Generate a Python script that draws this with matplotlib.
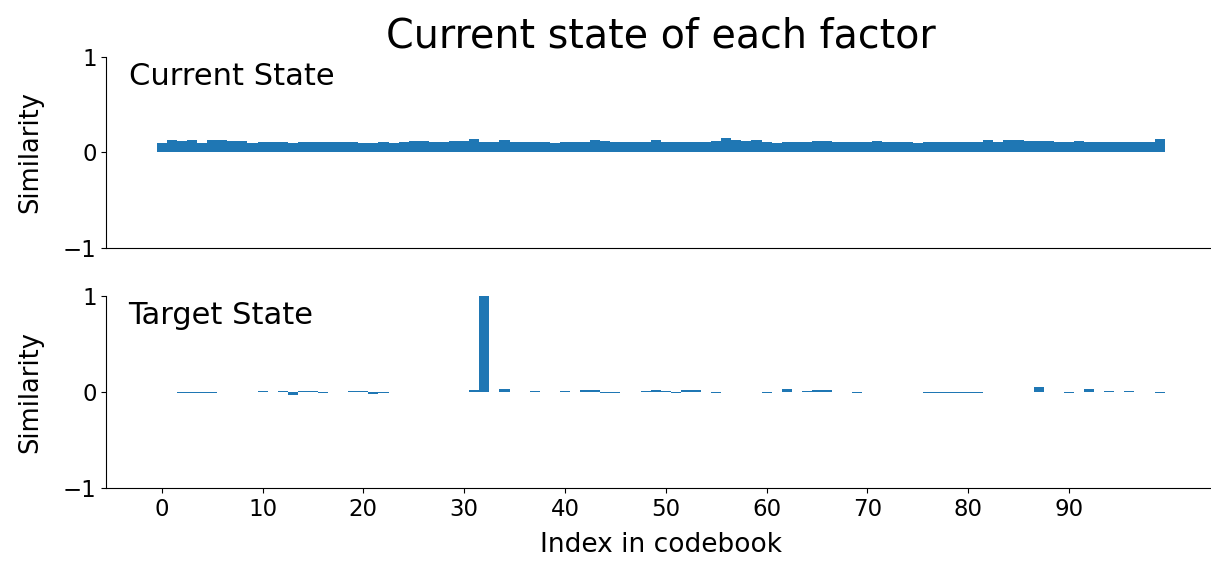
import numpy as np
import matplotlib
matplotlib.use("Agg")
import matplotlib.pyplot as plt

# === data ===
n_codes = 100
index = np.arange(n_codes)

current_state = [
    0.100, 0.130, 0.125, 0.135, 0.100, 0.135, 0.135, 0.125, 0.125, 0.100,
    0.115, 0.115, 0.105, 0.100, 0.115, 0.115, 0.115, 0.105, 0.115, 0.115,
    0.100, 0.100, 0.105, 0.100, 0.115, 0.120, 0.120, 0.105, 0.115, 0.120,
    0.120, 0.140, 0.115, 0.115, 0.135, 0.110, 0.105, 0.105, 0.105, 0.100,
    0.115, 0.115, 0.110, 0.130, 0.125, 0.115, 0.115, 0.105, 0.110, 0.130,
    0.110, 0.110, 0.115, 0.105, 0.115, 0.120, 0.150, 0.135, 0.120, 0.130,
    0.105, 0.100, 0.110, 0.115, 0.115, 0.120, 0.125, 0.115, 0.115, 0.110,
    0.110, 0.125, 0.110, 0.110, 0.105, 0.100, 0.105, 0.110, 0.115, 0.115,
    0.115, 0.115, 0.130, 0.115, 0.130, 0.130, 0.125, 0.120, 0.120, 0.115,
    0.110, 0.125, 0.115, 0.115, 0.110, 0.110, 0.110, 0.110, 0.110, 0.140,
]

# target state: mostly ~0, one-hot at index 32
target_nonzero = {
    2: -0.01, 3: -0.01, 4: -0.01, 5: -0.01,
    9: 0.005, 10: 0.01,
    12: 0.01, 13: -0.03, 14: 0.01, 15: 0.01, 16: -0.01,
    19: 0.01, 20: 0.01, 21: -0.025, 22: -0.01,
    27: 0.005, 28: 0.005,
    31: 0.02, 32: 1.0, 34: 0.03, 37: 0.01, 40: 0.01,
    42: 0.02, 43: 0.025, 44: -0.01, 45: -0.015, 46: -0.005,
    48: 0.01, 49: 0.025, 50: 0.01, 51: -0.01, 52: 0.02, 53: 0.025,
    55: -0.01, 60: -0.01, 62: 0.03,
    64: 0.01, 65: 0.025, 66: 0.025,
    68: 0.005, 69: -0.015, 70: 0.005,
    74: 0.005, 75: 0.005, 76: -0.01, 77: -0.01, 78: -0.01, 79: -0.01, 80: -0.01, 81: -0.01,
    87: 0.05, 90: -0.01, 92: 0.03, 94: 0.01, 96: 0.01, 99: -0.01,
}
target_state = [target_nonzero.get(i, 0.0) for i in range(n_codes)]

xticks = list(range(0, 100, 10))
yticks = [-1, 0, 1]

# === figure ===
fig = plt.figure(figsize=(12.11, 5.62), dpi=100)
ax_top = fig.add_axes([0.0878, 0.5587, 0.9156, 0.3399])
ax_bot = fig.add_axes([0.0878, 0.1317, 0.9156, 0.3416])

for ax, vals, label in [(ax_top, current_state, "Current State"),
                        (ax_bot, target_state, "Target State")]:
    ax.bar(index, vals, width=1.0, color="#1f77b4", linewidth=0)
    ax.set_ylim(-1, 1)
    ax.set_yticks(yticks)
    ax.set_ylabel("Similarity", fontsize=18.5, labelpad=14)
    ax.tick_params(labelsize=16.5)
    ax.spines["top"].set_visible(False)
    ax.spines["right"].set_visible(False)
    ax.text(0.02, 0.9, label, transform=ax.transAxes, fontsize=22, va="center")

ax_top.set_xticks([])
ax_bot.set_xticks(xticks)
ax_bot.set_xlabel("Index in codebook", fontsize=19, labelpad=8)
ax_top.set_title("Current state of each factor", fontsize=28.5, pad=2)

plt.savefig("out.png", dpi=100)
plt.close()
